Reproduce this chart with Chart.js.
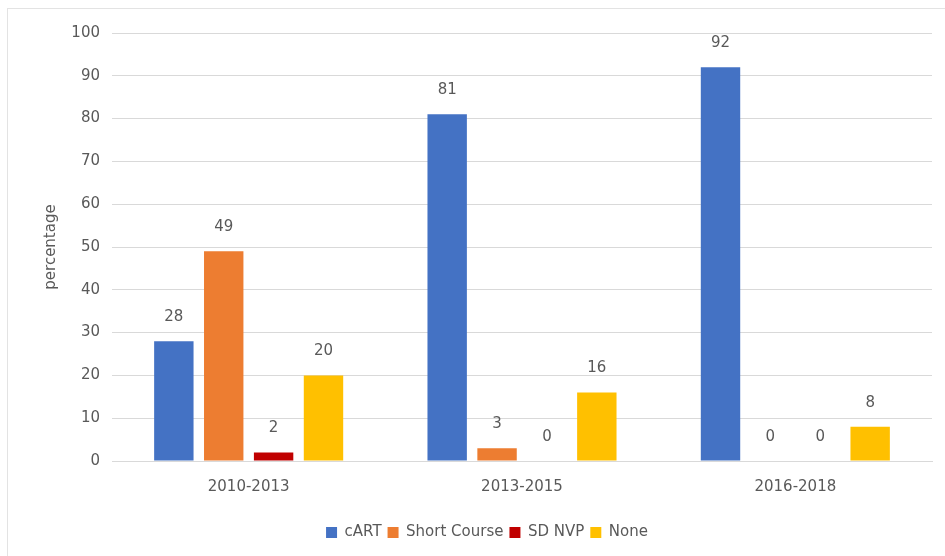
<!DOCTYPE html>
<html>
<head>
<meta charset="utf-8">
<title>Treatment by period</title>
<script src="https://cdn.jsdelivr.net/npm/chart.js@4/dist/chart.umd.min.js"></script>
<style>
  html, body { margin: 0; padding: 0; background: #fff; }
  #wrap { position: relative; width: 945px; height: 556px; overflow: hidden; }
  #frame { position: absolute; left: 7px; top: 8px; width: 950px; height: 560px; border: 1px solid #e3e3e3; box-sizing: border-box; }
  #chart { position: absolute; left: 0; top: 0; }
</style>
</head>
<body>
<div id="wrap">
  <div id="frame"></div>
  <canvas id="chart" width="945" height="556"></canvas>
</div>
<script>
// periods and percentages per treatment type
const categories = ['2010-2013', '2013-2015', '2016-2018'];
const cartValues = [28, 81, 92];
const shortCourseValues = [49, 3, 0];
const sdNvpValues = [2, 0, 0];
const noneValues = [20, 16, 8];
const yTicks = [0, 10, 20, 30, 40, 50, 60, 70, 80, 90, 100];

const textColor = '#595959';
const gridColor = '#d9d9d9';
const font = { family: 'DejaVu Sans', size: 15 };

// value printed above each bar
const valueLabels = {
    id: 'valueLabels',
    afterDatasetsDraw(chart) {
        const ctx = chart.ctx;
        ctx.save();
        ctx.font = '15px "DejaVu Sans"';
        ctx.fillStyle = textColor;
        ctx.textAlign = 'center';
        ctx.textBaseline = 'middle';
        chart.data.datasets.forEach((ds, i) => {
            chart.getDatasetMeta(i).data.forEach((bar, j) => {
                ctx.fillText(String(ds.data[j]), bar.x, bar.y - 24);
            });
        });
        ctx.restore();
    }
};

const ds = (label, data, color) => ({
    label, data, backgroundColor: color, borderWidth: 0,
    categoryPercentage: 0.73, barPercentage: 0.79
});

new Chart(document.getElementById('chart'), {
    type: 'bar',
    data: {
        labels: categories,
        datasets: [
            ds('cART', cartValues, '#4472C4'),
            ds('Short Course', shortCourseValues, '#ED7D31'),
            ds('SD NVP', sdNvpValues, '#C00000'),
            ds('None', noneValues, '#FFC000')
        ]
    },
    options: {
        responsive: false,
        animation: false,
        layout: { padding: { left: 42, right: 13, top: 33, bottom: 6 } },
        plugins: {
            legend: {
                position: 'bottom',
                labels: { boxWidth: 11, boxHeight: 11, padding: 6, color: textColor, font }
            },
            tooltip: { enabled: false }
        },
        scales: {
            x: {
                grid: { display: false },
                border: { color: gridColor },
                ticks: { color: textColor, font, padding: 9 },
                afterFit(scale) { scale.height += 14; }
            },
            y: {
                min: 0, max: 100,
                afterBuildTicks(scale) { scale.ticks = yTicks.map(v => ({ value: v })); },
                afterFit(scale) { scale.width = 70; },
                grid: { color: gridColor, drawTicks: false },
                border: { display: false },
                ticks: { color: textColor, font, padding: 12 },
                title: { display: true, text: 'percentage', color: textColor, font, padding: 0 }
            }
        }
    },
    plugins: [valueLabels]
});
</script>
</body>
</html>
